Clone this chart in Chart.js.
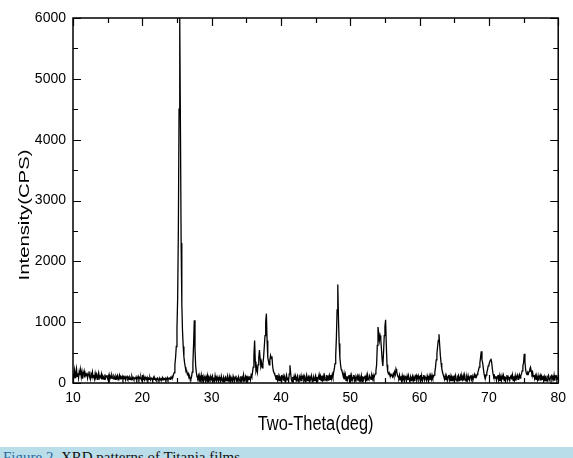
<!DOCTYPE html>
<html>
<head>
<meta charset="utf-8">
<script src="https://cdn.jsdelivr.net/npm/chart.js@4/dist/chart.umd.min.js"></script>
<style>
    html, body { margin: 0; padding: 0; background: #fff; overflow: hidden; }
    #wrap { position: absolute; left: 0; top: 0; width: 573px; height: 447px; }
    #caption {
        position: absolute; left: 0; top: 447px; width: 573px; height: 11px;
        background: #b9dde9; overflow: hidden;
        font-family: "Liberation Serif", serif; font-size: 15px; line-height: 15px;
        color: #111; white-space: nowrap;
    }
    #caption span.lbl { color: #2b6a9e; }
    #caption div { padding: 3px 0 0 3px; }
</style>
</head>
<body>
<div id="wrap"><canvas id="grafica"></canvas></div>
<div id="caption"><div><span class="lbl">Figure 2.</span> XRD patterns of Titania films.</div></div>

<script>
// scan grid (deg), one reading every 0.1 deg from 10 to 80
const anguloInicio = 10;
const pasoAngulo = 0.1;

// intensity (CPS), each row = one degree (N.0 ... N.9)
const intensidad = [
    150,120,210,90,170,240,110,160,80,190,      // 10
    130,220,100,180,70,160,200,90,150,120,      // 11
    170,80,140,190,100,60,150,110,180,90,       // 12
    130,70,160,100,140,60,120,170,80,110,       // 13
    90,150,70,120,100,60,140,80,110,130,        // 14
    70,100,140,60,110,80,130,90,70,120,         // 15
    100,60,110,80,120,50,90,130,70,100,         // 16
    80,110,60,100,70,120,50,90,110,70,          // 17
    90,60,100,80,50,110,70,90,60,80,            // 18
    70,100,50,80,110,60,90,70,100,50,           // 19
    80,60,90,50,100,70,60,90,40,80,             // 20
    60,90,50,80,70,40,90,60,80,50,              // 21
    70,50,80,60,40,80,50,70,60,90,              // 22
    50,70,60,80,40,60,90,50,70,80,              // 23
    60,90,80,110,100,140,170,300,420,600,       // 24
    900,1400,2500,4500,6000,4200,2300,1300,850,600, // 25
    430,330,260,190,200,140,160,110,120,80,     // 26
    60,100,180,330,650,1030,550,280,170,100,    // 27
    80,120,30,100,50,130,40,90,20,110,          // 28
    70,30,100,50,120,20,90,60,110,40,           // 29
    60,110,30,90,20,120,50,30,100,60,           // 30
    30,100,60,20,110,50,30,90,20,80,            // 31
    100,40,70,120,30,60,110,20,90,50,           // 32
    30,110,60,20,90,120,40,70,20,100,           // 33
    60,20,110,40,90,50,130,30,70,110,           // 34
    50,120,30,90,60,110,50,130,100,180,         // 35
    260,450,700,350,200,250,180,300,420,540,    // 36
    400,280,330,250,320,430,600,780,1000,1140,  // 37
    700,420,360,300,380,450,400,440,280,200,    // 38
    170,140,120,60,130,50,110,30,100,40,        // 39
    110,30,90,120,40,100,20,80,130,50,          // 40
    90,30,150,290,160,60,20,100,40,110,         // 41
    50,110,30,90,120,40,20,100,60,120,          // 42
    30,90,120,50,100,20,80,130,40,90,           // 43
    110,30,90,50,120,60,20,100,40,80,           // 44
    120,40,100,30,90,140,50,110,40,120,         // 45
    50,110,30,120,70,40,130,60,100,40,          // 46
    120,60,130,70,140,90,180,230,320,450,       // 47
    750,1200,1620,1050,650,420,300,220,200,150, // 48
    100,160,60,130,40,110,50,100,130,40,        // 49
    110,30,120,50,90,130,40,100,20,90,          // 50
    120,40,100,30,90,50,120,20,110,50,          // 51
    90,120,40,110,30,130,60,50,120,90,          // 52
    60,120,70,130,80,120,150,200,300,620,       // 53
    920,820,700,780,720,560,380,280,500,780,    // 54
    930,1040,620,300,190,150,170,130,110,140,   // 55
    120,100,150,110,180,140,230,190,130,100,    // 56
    80,130,50,110,40,120,60,100,30,110,         // 57
    90,30,110,50,120,60,20,100,40,90,           // 58
    120,40,90,30,110,130,40,80,120,50,          // 59
    90,110,40,120,30,90,130,50,100,70,          // 60
    40,120,70,30,110,50,120,60,130,80,          // 61
    100,130,180,260,380,480,600,700,800,620,    // 62
    450,330,240,180,140,140,60,120,50,110,      // 63
    40,100,130,50,110,30,100,40,120,60,         // 64
    100,40,120,60,30,110,130,40,80,120,         // 65
    50,110,60,120,40,130,70,30,100,50,          // 66
    120,60,40,100,130,60,110,50,100,140,        // 67
    90,120,100,140,170,210,260,330,420,520,     // 68
    380,330,240,150,100,80,130,170,220,280,     // 69
    300,340,370,400,340,230,150,100,120,80,     // 70
    110,40,100,130,50,120,30,100,40,120,        // 71
    60,120,40,110,30,90,130,50,100,70,          // 72
    40,100,120,60,130,40,110,50,120,40,         // 73
    100,130,60,110,140,80,120,150,200,280,      // 74
    330,480,350,220,160,140,170,150,190,230,    // 75
    260,200,150,180,110,130,70,120,60,100,      // 76
    50,120,40,100,130,40,110,60,120,30,         // 77
    100,40,120,60,30,110,130,60,40,100,         // 78
    120,50,100,60,130,40,110,120,50,80,         // 79
    90                                          // 80
];

const ticksX = [10, 20, 30, 40, 50, 60, 70, 80];
const ticksY = [0, 1000, 2000, 3000, 4000, 5000, 6000];

const tituloX = "Two-Theta(deg)";
const tituloY = "Intensity(CPS)";

const puntos = intensidad.map((v, i) => ({
    x: Math.round((anguloInicio + i * pasoAngulo) * 10) / 10,
    y: v
}));

// frame, inward ticks on all four sides, and the stretched axis titles
const marcoPlugin = {
    id: "marco",
    afterDraw(chart) {
        const ctx = chart.ctx;
        const area = chart.chartArea;
        const sx = chart.scales.x;
        const sy = chart.scales.y;

        ctx.save();
        ctx.strokeStyle = "#000";
        ctx.lineWidth = 1.5;
        ctx.strokeRect(area.left, area.top, area.right - area.left, area.bottom - area.top);

        ctx.lineWidth = 1.2;
        ctx.beginPath();
        sx.ticks.forEach(t => {
            const px = Math.round(sx.getPixelForValue(t.value)) + 0.5;
            const len = ticksX.includes(t.value) ? 8 : 5;
            ctx.moveTo(px, area.bottom);
            ctx.lineTo(px, area.bottom - len);
            ctx.moveTo(px, area.top);
            ctx.lineTo(px, area.top + len);
        });
        sy.ticks.forEach(t => {
            const py = Math.round(sy.getPixelForValue(t.value)) + 0.5;
            const len = ticksY.includes(t.value) ? 8 : 5;
            ctx.moveTo(area.left, py);
            ctx.lineTo(area.left + len, py);
            ctx.moveTo(area.right, py);
            ctx.lineTo(area.right - len, py);
        });
        ctx.stroke();

        ctx.fillStyle = "#000";
        ctx.font = '20px "Liberation Sans", Arial, sans-serif';
        ctx.textAlign = "center";
        ctx.textBaseline = "alphabetic";
        ctx.save();
        ctx.translate((area.left + area.right) / 2, 430);
        ctx.scale(0.82, 1);
        ctx.fillText(tituloX, 0, 0);
        ctx.restore();

        ctx.font = '14px "Liberation Sans", Arial, sans-serif';
        ctx.save();
        ctx.translate(28.5, 215);
        ctx.rotate(-Math.PI / 2);
        ctx.scale(1.45, 1);
        ctx.fillText(tituloY, 0, 0);
        ctx.restore();

        ctx.restore();
    }
};

const fuenteTicks = {
    family: '"Liberation Sans", Arial, sans-serif',
    size: 14
};

new Chart(document.getElementById("grafica"), {
    type: "line",
    data: {
        datasets: [
            {
                data: puntos,
                borderColor: "#000",
                borderWidth: 1.3,
                pointRadius: 0,
                tension: 0,
                fill: false
            }
        ]
    },
    options: {
        responsive: true,
        maintainAspectRatio: false,
        animation: false,
        layout: {
            padding: { top: 18, right: 13, left: 0, bottom: 0 }
        },
        plugins: {
            legend: { display: false },
            tooltip: { enabled: false }
        },
        scales: {
            x: {
                type: "linear",
                min: 10,
                max: 80,
                grid: { display: false, drawTicks: false },
                border: { display: false },
                ticks: {
                    stepSize: 5,
                    autoSkip: false,
                    maxRotation: 0,
                    padding: 7,
                    color: "#000",
                    font: fuenteTicks,
                    callback: v => (ticksX.includes(v) ? v : "")
                },
                afterFit(scale) {
                    scale.height = 64;
                }
            },
            y: {
                min: 0,
                max: 6000,
                grid: { display: false, drawTicks: false },
                border: { display: false },
                ticks: {
                    stepSize: 500,
                    autoSkip: false,
                    padding: 7,
                    color: "#000",
                    font: fuenteTicks,
                    callback: v => (ticksY.includes(v) ? v : "")
                },
                afterFit(scale) {
                    scale.width = 73;
                }
            }
        }
    },
    plugins: [marcoPlugin]
});
</script>
</body>
</html>
